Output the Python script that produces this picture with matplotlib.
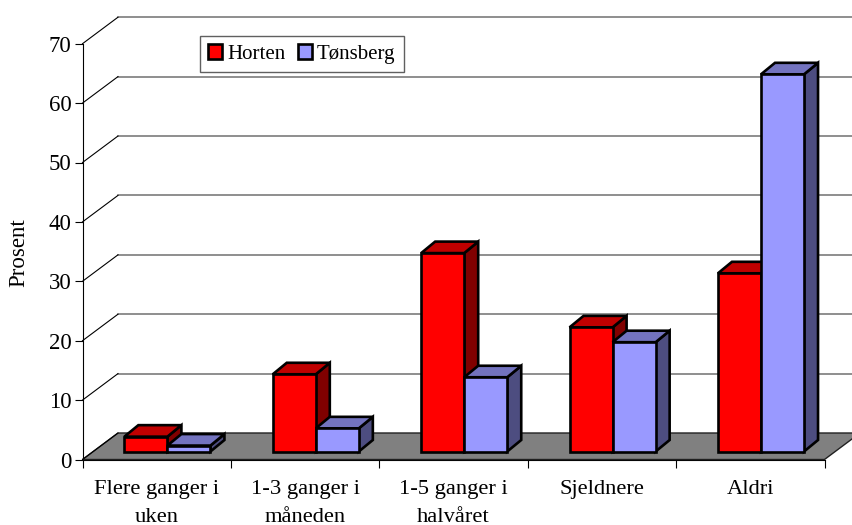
# -*- coding: utf-8 -*-
# Excel style 3D columns, drawn as polygons shifted in pixels from the data axes
import matplotlib
matplotlib.use("Agg")
import matplotlib.pyplot as plt
from matplotlib.patches import Polygon, Patch
from matplotlib.transforms import Affine2D

plt.rcParams['font.family'] = ['Liberation Serif', 'DejaVu Serif']

kategorier = ["Flere ganger i\nuken", "1-3 ganger i\nmåneden", "1-5 ganger i\nhalvåret", "Sjeldnere", "Aldri"]
horten = [2.5, 13.0, 33.4, 20.9, 30.0]
tonsberg = [1.0, 3.9, 12.5, 18.4, 63.5]
y_ticks = [0, 10, 20, 30, 40, 50, 60, 70]

W, H = 852, 525
fig = plt.figure(figsize=(W / 100, H / 100), dpi=100)
ax = fig.add_axes([82.5 / W, 1 - 459.5 / H, 742 / W, 415.8 / H])
ax.set_xlim(0, len(kategorier))
ax.set_ylim(0, 70)
ax.patch.set_visible(False)

# forskyvning i piksler
wall = (35.5, 26.5)      # bakvegg
bar_off = (10.7, 8.0)    # stolpens framkant
depth = (14.0, 11.5)     # stolpens dybde
bar_w = 0.29

n = len(kategorier)

# gulv
(x0, y0), (x1, y1) = ax.transData.transform([(0, 0), (n, 0)])
floor = Polygon([(x0, y0), (x1, y1), (x1 + wall[0], y1 + wall[1]), (x0 + wall[0], y0 + wall[1])],
                closed=True, transform=None, facecolor="#808080", edgecolor="#202020", lw=1.0,
                clip_on=False, zorder=1)
fig.add_artist(floor)

# rutenett: skrå strek til bakveggen og vannrett strek langs den
wall_tr = ax.transData + Affine2D().translate(*wall)
for v in y_ticks:
    if v > 0:
        ax.plot([0, n], [v, v], transform=wall_tr, color="#707070", lw=1.1, clip_on=False, zorder=1.5)
    px = ax.transData.transform((0, v))
    fig.add_artist(plt.Line2D([px[0], px[0] + wall[0]], [px[1], px[1] + wall[1]], transform=None,
                              color="black", lw=0.8, zorder=1.5))


def column(x, v, face, top, side):
    p = ax.transData.transform([(x, 0), (x + bar_w, v)])
    dx, dy = bar_off
    ex, ey = depth
    xa, xb = p[0][0] + dx, p[1][0] + dx
    ya, yt = p[0][1] + dy, p[1][1] + dy
    polys = [
        ([(xb, ya), (xb + ex, ya + ey), (xb + ex, yt + ey), (xb, yt)], side),
        ([(xa, yt), (xb, yt), (xb + ex, yt + ey), (xa + ex, yt + ey)], top),
        ([(xa, ya), (xb, ya), (xb, yt), (xa, yt)], face),
    ]
    for pts, col in polys:
        fig.add_artist(Polygon(pts, closed=True, transform=None, facecolor=col, edgecolor="black",
                               lw=1.9, joinstyle="miter", zorder=3))


for i in range(n):
    mid = i + 0.5
    column(mid - bar_w, horten[i], "#FF0000", "#C00000", "#800000")
    column(mid, tonsberg[i], "#9999FF", "#7373BF", "#4D4D80")

# akser
for sp in ["top", "right"]:
    ax.spines[sp].set_visible(False)
ax.spines["left"].set_linewidth(0.8)
ax.spines["bottom"].set_linewidth(0.8)
ax.set_yticks(y_ticks)
ax.tick_params(axis="y", labelsize=16.5, length=5.5, width=0.8, pad=2.5)
ax.set_xticks(range(n + 1))
ax.set_xticklabels([])
ax.set_xticks([i + 0.5 for i in range(n)], minor=True)
ax.set_xticklabels(kategorier, minor=True, fontsize=16.2, linespacing=1.65, va="top")
ax.tick_params(axis="x", which="major", length=5.5, width=0.8)
ax.tick_params(axis="x", which="minor", length=0, pad=14.5)
fig.text(18.5 / W, 1 - 253 / H, "Prosent", rotation=90, ha="center", va="center", fontsize=16.5)

# tegnforklaring
handles = [Patch(facecolor="#FF0000", edgecolor="black", lw=1.9, label="Horten"),
           Patch(facecolor="#9999FF", edgecolor="black", lw=1.9, label="Tønsberg")]
leg = fig.legend(handles=handles, loc="upper left", bbox_to_anchor=(199.5 / W, 1 - 36 / H),
                 ncol=2, fontsize=15, fancybox=False, framealpha=1, edgecolor="#606060",
                 handlelength=0.68, handleheight=0.7, handletextpad=0.25, columnspacing=0.58,
                 borderpad=0.4, borderaxespad=0)
leg.get_frame().set_linewidth(1.0)
leg.set_zorder(5)

fig.savefig("out.png", dpi=100)
